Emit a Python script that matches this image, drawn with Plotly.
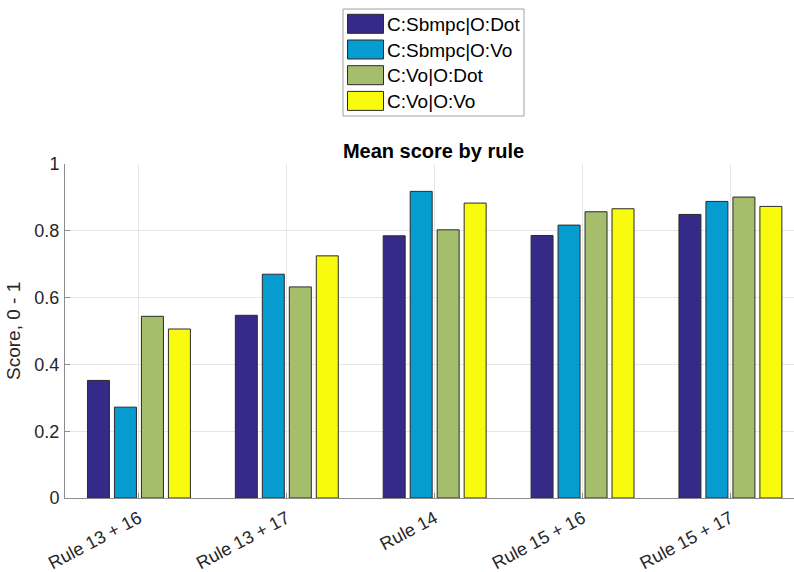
import plotly.graph_objects as go

# Rule groups shown on the x axis
categories = ["Rule 13 + 16", "Rule 13 + 17", "Rule 14", "Rule 15 + 16", "Rule 15 + 17"]

# Mean score per configuration (controller | observer)
series_names = ["C:Sbmpc|O:Dot", "C:Sbmpc|O:Vo", "C:Vo|O:Dot", "C:Vo|O:Vo"]
sbmpc_dot = [0.352, 0.547, 0.785, 0.786, 0.849]
sbmpc_vo = [0.272, 0.670, 0.918, 0.817, 0.888]
vo_dot = [0.544, 0.632, 0.803, 0.857, 0.901]
vo_vo = [0.506, 0.725, 0.883, 0.866, 0.873]
series_values = [sbmpc_dot, sbmpc_vo, vo_dot, vo_vo]

# parula-style palette
colors = ["#352A87", "#079CCF", "#A5BE6B", "#F9FB0E"]

y_ticks = [0, 0.2, 0.4, 0.6, 0.8, 1]
y_tick_labels = ["0", "0.2", "0.4", "0.6", "0.8", "1"]

FONT = "Liberation Sans, Arial, Helvetica, sans-serif"
AXIS_GRAY = "#8C8C8C"
TEXT = "#262626"

fig = go.Figure()
for name, vals, col in zip(series_names, series_values, colors):
    fig.add_trace(go.Bar(
        x=categories, y=vals, name=name,
        marker=dict(color=col, line=dict(color="#2B2B2B", width=1)),
        showlegend=False,
    ))

# Pixel helpers for paper coordinates
W, H = 794, 572
L, R, T, B = 65, 0, 164, 74
pw, ph = W - L - R, H - T - B

def px_x(x):
    return (x - L) / pw

def px_y(y):
    return (H - B - y) / ph

# Boxed legend above the axes
shapes = []
annotations = []
box_l, box_t, box_r, box_b = 343, 9, 524, 116
shapes.append(dict(type="rect", xref="paper", yref="paper",
                   x0=px_x(box_l), x1=px_x(box_r), y0=px_y(box_b), y1=px_y(box_t),
                   line=dict(color="#A0A0A0", width=1), fillcolor="white", layer="above"))
row_h = 25.7
for i, (name, col) in enumerate(zip(series_names, colors)):
    top = 14.3 + i * row_h
    shapes.append(dict(type="rect", xref="paper", yref="paper",
                       x0=px_x(347.5), x1=px_x(383.5), y0=px_y(top + 19), y1=px_y(top),
                       line=dict(color="#2B2B2B", width=1), fillcolor=col, layer="above"))
    annotations.append(dict(xref="paper", yref="paper", x=px_x(385), y=px_y(top + 10),
                            text=name, showarrow=False, xanchor="left", yanchor="middle",
                            font=dict(family=FONT, size=19, color="#000000")))

# y-axis title
annotations.append(dict(xref="paper", yref="paper", x=px_x(13), y=0.5,
                        text="Score, 0 - 1", showarrow=False, textangle=-90,
                        xanchor="center", yanchor="middle",
                        font=dict(family=FONT, size=19, color=TEXT)))

fig.update_layout(
    width=W, height=H,
    margin=dict(l=L, r=R, t=T, b=B),
    paper_bgcolor="white", plot_bgcolor="white",
    barmode="group", bargap=0.27, bargroupgap=0.185,
    font=dict(family=FONT, size=18, color=TEXT),
    title=dict(text="<b>Mean score by rule</b>", x=433.5 / W, xanchor="center",
               y=1 - 151 / H, yanchor="middle",
               font=dict(family=FONT, size=20, color="#000000")),
    shapes=shapes, annotations=annotations,
    showlegend=False,
)
fig.update_xaxes(
    type="category", range=[-0.5, 4.43],
    tickangle=-28, tickfont=dict(family=FONT, size=18, color=TEXT),
    ticklabelstandoff=2,
    showgrid=True, gridcolor="#E6E6E6", gridwidth=1,
    showline=True, linecolor=AXIS_GRAY, linewidth=1,
    ticks="inside", ticklen=5, tickcolor=AXIS_GRAY,
)
fig.update_yaxes(
    range=[0, 1], tickvals=y_ticks, ticktext=y_tick_labels,
    tickfont=dict(family=FONT, size=18, color=TEXT),
    ticklabelstandoff=1,
    showgrid=True, gridcolor="#E6E6E6", gridwidth=1,
    showline=True, linecolor=AXIS_GRAY, linewidth=1,
    ticks="inside", ticklen=5, tickcolor=AXIS_GRAY,
    zeroline=False,
)

fig.write_html("out.html")
